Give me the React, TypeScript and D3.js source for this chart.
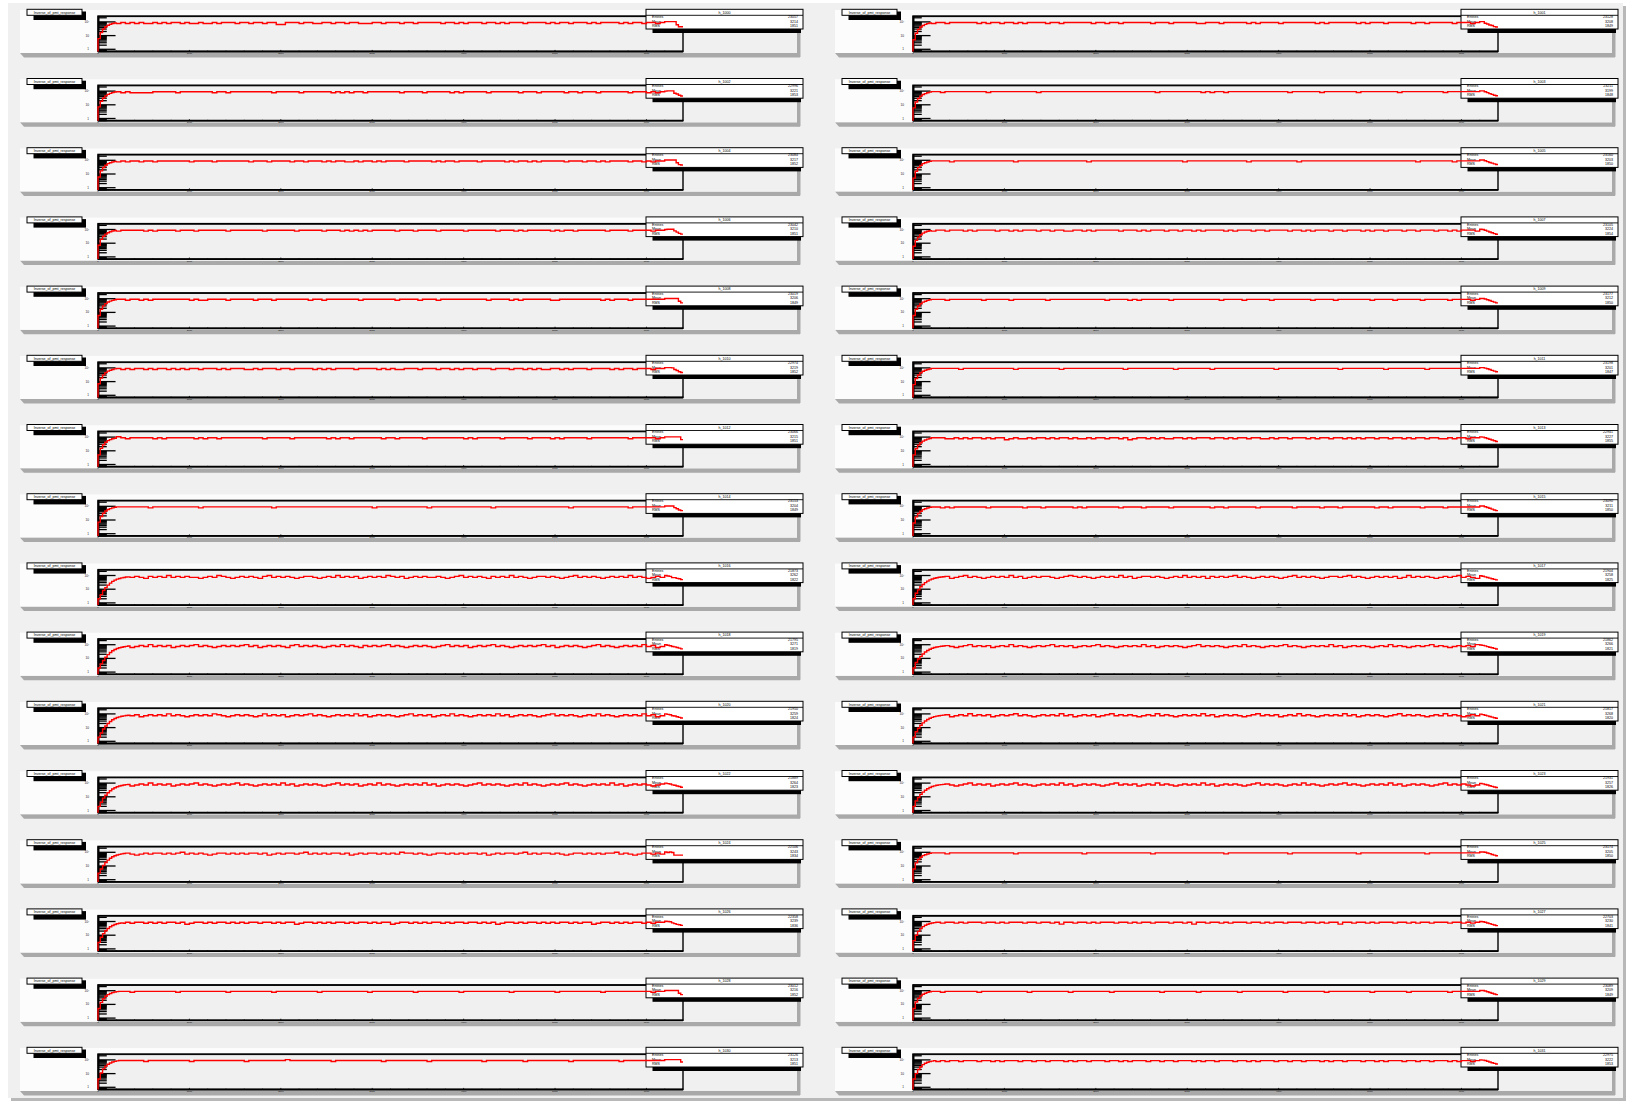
import React from "react";
import * as d3 from "d3";

// ---------------- data ----------------
const statNames = [
  "h_1000", "h_1001", "h_1002", "h_1003", "h_1004", "h_1005", "h_1006", "h_1007",
  "h_1008", "h_1009", "h_1010", "h_1011", "h_1012", "h_1013", "h_1014", "h_1015",
  "h_1016", "h_1017", "h_1018", "h_1019", "h_1020", "h_1021", "h_1022", "h_1023",
  "h_1024", "h_1025", "h_1026", "h_1027", "h_1028", "h_1029", "h_1030", "h_1031",
];
const panelTitle = "Inverse_of_pmt_response";
const entries = [
  "23057", "23128", "22996", "23211", "23084", "23160", "23042", "23105",
  "23019", "23177", "22974", "23198", "23066", "22941", "23153", "23090",
  "21873", "21904", "21795", "21862", "21950", "21817", "21889", "21931",
  "22106", "23174", "22358", "22703", "23012", "23089", "23126", "22975",
];
const means = [
  "3214", "3208", "3221", "3199", "3217", "3203", "3210", "3224",
  "3206", "3212", "3219", "3201", "3215", "3227", "3204", "3211",
  "3262", "3258", "3271", "3266", "3259", "3268", "3264", "3257",
  "3243", "3205", "3239", "3230", "3216", "3209", "3213", "3222",
];
const rmss = [
  "1851", "1849", "1853", "1848", "1852", "1850", "1851", "1854",
  "1849", "1850", "1852", "1847", "1851", "1855", "1849", "1850",
  "1822", "1825", "1819", "1821", "1824", "1820", "1823", "1826",
  "1834", "1850", "1836", "1841", "1852", "1849", "1851", "1853",
];
const plateaus = [
  90, 91, 90, 92, 90, 91, 89, 90,
  91, 90, 90, 92, 90, 89, 91, 90,
  86, 86, 87, 86, 86, 87, 86, 86,
  87, 91, 88, 89, 90, 90, 90, 89,
];
// first fine bins (width 25) of each panel
const riseProfiles = [
  [6, 17, 30, 44, 57, 67, 76, 84], [5, 15, 28, 42, 55, 66, 75, 83],
  [7, 18, 31, 45, 58, 68, 77, 85], [6, 16, 29, 43, 56, 66, 75, 84],
  [6, 17, 30, 44, 57, 67, 76, 84], [5, 16, 29, 43, 57, 67, 76, 84],
  [7, 19, 32, 46, 58, 68, 77, 85], [6, 16, 28, 41, 54, 65, 74, 82],
  [6, 17, 30, 44, 57, 67, 76, 84], [6, 17, 29, 43, 56, 66, 75, 83],
  [7, 18, 31, 45, 58, 68, 77, 85], [6, 17, 30, 44, 57, 67, 76, 84],
  [5, 15, 28, 42, 55, 66, 75, 83], [5, 14, 26, 39, 51, 62, 71, 79],
  [7, 18, 31, 45, 58, 68, 77, 85], [6, 17, 30, 44, 57, 67, 76, 84],
  [2, 4, 8, 13, 20, 28, 37, 46, 54, 61, 67, 72, 77, 80], [2, 5, 9, 15, 22, 30, 39, 48, 56, 63, 69, 74, 78, 81],
  [2, 4, 7, 12, 19, 27, 36, 45, 53, 60, 66, 71, 76, 80], [2, 5, 9, 14, 21, 29, 38, 47, 55, 62, 68, 73, 77, 80],
  [2, 4, 8, 13, 20, 28, 37, 46, 54, 61, 67, 72, 77, 80], [2, 5, 9, 15, 22, 30, 39, 48, 56, 63, 69, 74, 78, 81],
  [2, 4, 8, 13, 20, 28, 37, 46, 54, 61, 67, 72, 77, 80], [2, 5, 9, 15, 22, 30, 39, 48, 56, 63, 69, 74, 78, 81],
  [3, 6, 11, 18, 27, 37, 47, 56, 64, 71, 77, 82], [6, 17, 30, 44, 57, 67, 76, 84],
  [3, 7, 13, 21, 31, 41, 51, 60, 68, 75, 80], [4, 10, 19, 30, 42, 53, 63, 71, 78, 83],
  [5, 14, 26, 39, 52, 63, 72, 80, 85], [5, 15, 28, 42, 55, 66, 75, 83],
  [4, 11, 22, 35, 48, 60, 70, 78, 85], [4, 10, 20, 32, 45, 57, 67, 75, 82],
];
// last fine bins of each panel
const tailProfiles = [
  [104, 104, 104, 104, 104, 62, 44, 44], [104, 104, 80, 70, 60, 55, 45, 42],
  [100, 104, 104, 104, 70, 62, 50, 44], [104, 104, 90, 78, 66, 58, 50, 46],
  [104, 104, 104, 104, 104, 66, 48, 46], [104, 104, 92, 80, 70, 62, 55, 50],
  [100, 104, 104, 104, 80, 64, 52, 46], [104, 100, 88, 76, 66, 58, 50, 45],
  [104, 104, 104, 104, 104, 104, 66, 50], [104, 104, 94, 84, 74, 64, 56, 50],
  [104, 104, 104, 100, 76, 64, 52, 46], [104, 104, 96, 86, 76, 66, 58, 52],
  [104, 104, 104, 104, 104, 104, 104, 66], [104, 100, 90, 80, 70, 62, 54, 48],
  [104, 104, 104, 104, 80, 66, 54, 48], [104, 104, 92, 82, 72, 62, 54, 48],
  [100, 92, 86, 70, 70, 62, 58, 50], [96, 88, 80, 72, 64, 58, 52, 48],
  [100, 92, 84, 74, 70, 62, 56, 50], [96, 90, 82, 72, 66, 60, 54, 48],
  [100, 92, 86, 74, 70, 62, 56, 50], [96, 88, 80, 72, 64, 58, 52, 48],
  [100, 92, 86, 74, 70, 62, 56, 50], [96, 88, 80, 72, 64, 58, 52, 48],
  [104, 96, 104, 96, 62, 62, 62, 62], [104, 104, 100, 90, 80, 70, 62, 56],
  [104, 100, 96, 80, 70, 62, 58, 52], [100, 96, 88, 78, 70, 62, 56, 50],
  [104, 104, 104, 104, 104, 104, 66, 52], [104, 104, 94, 84, 74, 66, 58, 52],
  [104, 104, 104, 104, 104, 104, 104, 70], [100, 96, 90, 80, 70, 62, 56, 50],
];
// plateau deviations, one character per pair of fine bins:
// "." on plateau, "-" about 1px lower, "=" about 2px lower, "+" about 1px higher
const dipPatterns = [
  "....-.-.-.--.-.-..-.--.--.-...-..-..-..==...-..--..-..-..---..-...-..-.....-..-.-...-..-.-...-....-.-..-...-.-....-.-..-..-...-..",
  "....-..-......-.-..-..-.-....-..-......-..-..-......-...-.....--...-.....-.-....-.......-.-......-.-...-.....-..-.....-...-......",
  ".....-.-----.....-.......-..-.........-.....-......-.-.-..-.......-....-.....-.-.....-......-...-.....-..-...-......-...-.-....-..",
  "......-.........-..........-.........................-.........-.-..-.............-......-.......-........-.........-.............",
  "....-.-..-..-.......-....-.......-...-....-..-...-.-..--.-..-.-....-.....-.-..-....-.....-.-..-.-.....-...-..-.-....-..-.-..-....",
  "........-.............-...............-....................-.............-..........-.........................-.......-.........",
  "....-.....-.-....-...-......-.......-......-.....-...-.-.-.-.....-...-....-.....-......-...-.-.....-.-..-......-....-....-........",
  "....-..-...-.-....-..-.-...-..-..--..-.-.....-...-.-...-..-..-.-....-.-...-..-....-..-.-...-..-...-.-..-...-..-...-..-.-...-...-.",
  "......-..-.-........-.--....-.....-...-.......-..-.......-.......-....-...-..........-....-.-......--.........-.-...-.......-.....",
  ".......-.......-.....-.......-............-....-.-......-..........-....-.....-........-....-.......-....-.....-.....-....-.......",
  ".....-.-..-.-..-.-.-..-...-.-...--.-...-..-....-.-.-....-....-.-.--...-...-..-.-..-...-...-..-.-.--..-.-...-....-.-..-...-..-...",
  "..........-...........-.........-.............-..........-.......-.............-.............-.........-........-...............",
  "....+.-.....-.-......-.-..-.........-.....-.......-.-..-......-..-.....-........-.-.....-.....-....-.-.....-........-.....-......",
  ".......--.-.-..-.-..=-.--.-..-.-..-.--.-..-..-.=-..-.-.--..-.-...-..-.-..-..--.-..-...-.-..-..-.-.-..-..-..-.-..-..--.-..-..-.-.",
  "...........-..........-...............-.....................-...........-.............-................-............-............",
  "......-.-.......-.......-...-......-.-.......-....-.....-........-..-......-.......-.....-...-.......-..-......-....-.......-.....",
  "......+-.-=.-.-+-.-.--=-.-+.-=-.-.-=.+-.-.-=-..-=-.-+-.-.=-.-.-+.-.=-.-.--.-=-.+-.-.-=.-.-+-.-=-..-.-=-.+-.-.-=-.-.-+-.-=-.-.=.-.+",
  "......-.=-.+-.-=-.-.-+-.=-.-..-=-.+.-.-=-.-.-+-.=-..-.-=-.-+-.-.=.-.-.+-.-=-.-.-=-.+-.-.-=-..-.+-.-=-.-.-.=-+-.-.-=-.-.+-.-=-.-.-",
  "......-=-.-+-.-.=-.-.+-.-=-.-.-.+-.=-.-.-=.+-.-.-=-.-+-.-=.-.-.+-.-=-.-.-=-.+-.-.=-.-.+-.-=-.-.-.+-.=-.-.-=-.+-.-=-.-.-+-.=-.-.-",
  "......-.-=-.+-.-.=-.-+-.-=-.-.+-.-.=-.-.+-.-=-.-.-+-.=-.-.-=-.+-.-.-=-.-+-.-=-.-.+-.-=-.-.-+-.=-.-.-=-.-+-.-=-.-.+-.-=-.-.-+-.=-",
  "......+-.=-.-.-+-.-=-.-.-+.-=-.-.-=-+-.-.=-.-.+-.-=-.-.-+-.=-.-.-=-.+-.-.=-.-+-.-=-.-.-+-.=-.-.-=-.+-.-.-=-.-+-.-=-.-.-+-.=-.-.-",
  "......-.=-.-+-.-.=-.-.+-.-=-.-.-+-.=-.-.=-.+-.-.-=-.-+-.-=-.-.-+-.=-.-.-=-.+-.-.=-.-+-.-=-.-.-+-.=-.-.-=-.+-.-.-=-.-+-.-=-.-.-+-.",
  "......-=-.-+-.-.=-.-.+-.-=-.-.+-.-=-.-.-+-.=-.-.-=-.+-.-.=-.-+-.-=-.-.-+-.=-.-.-=-.+-.-.-=-.-+-.-=-.-.+-.-=-.-.-+-.=-.-.-=-.+-.-.",
  "......-.-=-.+-.-.=-.-.+-.-=-.-.-+-.=-.-.-=-.+-.-.=-.-+-.-=-.-.-+-.=-.-.-=-.+-.-.-=-.-+-.-=-.-.+-.-=-.-.-+-.=-.-.-=-.+-.-.-=-.-+-",
  ".....-.-=-.-..-.-.+-.-.-=-..-.-.-..-.=-.-..-.+-.-.-..-.=-.-..-.-.-+..-.-=-..-.-.-..-.=-.-..-.+-.-..-.-=-..-.-.-..+-.-=-..-.-.-..-",
  ".......-..............-..............-..............-...............-.............-..............-..............-...............",
  ".....-.-..-.-.-..-.=-..-.-..-.-.-..-..-.-..=-..-.-.-..-.-..-.-..=-..-.-.-..-.-..-..-.-.=-..-.-..-.-.-..-.-..=-..-.-.-..-.-..-.-..",
  "......-..-.-...-..-.-...-..-..-.=..-..-.-...-..-.-..-...-..-.=..-..-.-...-..-.-..-...-..-.-..=..-..-.-...-..-.-..-...-..-.-...-..",
  ".......-.........-..........-.........-.........-..........-.........-.........-..........-.........-.........-..........-.......",
  "......-.......-..........-........-........-..........-.......-........-.........-........-.........-.......-........-.........-.",
  "..........-.........-...........-........+.........-..........-.........-...........-........-.........-..........-.............",
  ".....-.-..-...-..-.-...-..-..-...-.-..-...-..-.-...-..-..-...-.-..-...-..-.-...-..-..-...-.-..-...-..-.-...-..-..-...-.-..-...-..",
];
const xTickValues = [0, 1000, 2000, 3000, 4000, 5000, 6000];
const xMinorStep = 200;
const xDomain = [0, 6400];
const yDomain = [0.69, 270];
const statLabels = ["Entries", "Mean", "RMS"];

// ---------------- layout ----------------
const W = 1633;
const H = 1101;
const COL_DX = 815;
const ROW_DY = 69.2;
const FX0 = 98, FX1 = 683, FY0 = 16, FY1 = 51.5;
const NFINE = 256;
const FONT = "'Liberation Sans', Arial, Helvetica, sans-serif";

const devFactor: Record<string, number> = { ".": 1, "-": 0.85, "=": 0.72, "+": 1.17 };

function buildBins(i: number): number[] {
  const P = plateaus[i];
  const pat = dipPatterns[i].padEnd(NFINE / 2, ".").slice(0, NFINE / 2);
  const vals: number[] = [];
  for (let b = 0; b < NFINE; b++) vals.push(P * (devFactor[pat[b >> 1]] ?? 1));
  riseProfiles[i].forEach((v, k) => (vals[k] = v));
  const t = tailProfiles[i];
  t.forEach((v, k) => (vals[NFINE - t.length + k] = v));
  return vals;
}

function Panel({ i }: { i: number }) {
  const row = Math.floor(i / 2);
  const col = i % 2;
  const x = d3.scaleLinear().domain(xDomain).range([FX0, FX1]);
  const y = d3.scaleLog().domain(yDomain).range([FY1, FY0]);
  const bins = buildBins(i);
  const bw = (xDomain[1] - xDomain[0]) / NFINE;
  const pts: [number, number][] = [[0, yDomain[0]]];
  bins.forEach((v, b) => pts.push([b * bw, v]));
  pts.push([xDomain[1], bins[NFINE - 1]]);
  const line = d3
    .line<[number, number]>()
    .x((d) => x(d[0]))
    .y((d) => y(d[1]))
    .curve(d3.curveStepAfter);
  const yTicks = y.ticks();
  const minorX = d3.range(xDomain[0], xDomain[1] + 1, xMinorStep);
  const isMajor = (t: number) => Math.abs(Math.log10(t) - Math.round(Math.log10(t))) < 1e-9;
  const majorLen = 0.03 * (FX1 - FX0);
  const yLab = (t: number) => {
    const e = Math.round(Math.log10(t));
    return e === 0 ? "1" : e === 1 ? "10" : "10\u00b2";
  };
  return (
    <g transform={`translate(${col * COL_DX},${row * ROW_DY})`}>
      {/* pad shadow */}
      <polygon points="20,53 800,53 800,57.5 24,57.5" fill="#a9a9a9" />
      <rect x={797} y={32} width={3.5} height={25} fill="#a9a9a9" />
      {/* pad */}
      <rect x={20} y={10} width={777} height={43} fill="#fcfcfc" />
      <rect x={FX0} y={FY0} width={797 - FX0} height={53 - FY0} fill="#f0f0f0" />
      {/* frame */}
      <rect x={FX0} y={FY0} width={FX1 - FX0} height={FY1 - FY0} fill="none" stroke="#000" strokeWidth={1.4} />
      <line x1={FX0} x2={FX1} y1={FY0 + 0.6} y2={FY0 + 0.6} stroke="#000" strokeWidth={1} />
      <line x1={FX0} x2={FX1} y1={FY1} y2={FY1} stroke="#000" strokeWidth={1.8} />
      <line x1={FX0 + 0.5} x2={FX0 + 0.5} y1={FY0} y2={FY1} stroke="#000" strokeWidth={2} />
      {/* y ticks */}
      {yTicks.map((t, k) => (
        <line
          key={k}
          x1={FX0}
          x2={FX0 + (isMajor(t) ? majorLen : majorLen / 2)}
          y1={y(t)}
          y2={y(t)}
          stroke="#000"
          strokeWidth={1.3}
        />
      ))}
      {/* x ticks */}
      {minorX.map((t, k) => (
        <line key={k} x1={x(t)} x2={x(t)} y1={FY1} y2={FY1 - (t % 1000 === 0 ? 1.6 : 0.9)} stroke="#000" strokeWidth={0.8} />
      ))}
      {xTickValues.map((t, k) => (
        <text key={k} x={x(t)} y={FY1 + 2.6} fontSize={2.4} textAnchor="middle" fill="#000" fontFamily={FONT}>
          {t}
        </text>
      ))}
      {/* y labels */}
      {yTicks.filter(isMajor).map((t, k) => (
        <text key={k} x={89} y={y(t) + 1.1} fontSize={3.2} textAnchor="end" fill="#222" fontFamily={FONT}>
          {yLab(t)}
        </text>
      ))}
      {/* title */}
      <rect x={33.5} y={11.5} width={52.5} height={8.5} fill="#000" />
      <rect x={27} y={9.3} width={55} height={6} fill="#fff" stroke="#000" strokeWidth={1} />
      <text x={54.5} y={13.6} fontSize={3.6} textAnchor="middle" fill="#000" fontFamily={FONT}>
        {panelTitle}
      </text>
      {/* stats box */}
      <rect x={652.5} y={27} width={148.5} height={6} fill="#000" />
      <rect x={646} y={9.3} width={157} height={19.7} fill="#fff" stroke="#000" strokeWidth={1} />
      <line x1={646} x2={803} y1={15.3} y2={15.3} stroke="#000" strokeWidth={0.9} />
      <text x={724.5} y={13.7} fontSize={3.6} textAnchor="middle" fill="#000" fontFamily={FONT}>
        {statNames[i]}
      </text>
      {statLabels.map((s, k) => (
        <g key={s}>
          <text x={652} y={18 + k * 4.5} fontSize={3.6} fill="#000" fontFamily={FONT}>
            {s}
          </text>
          <text x={798} y={18 + k * 4.5} fontSize={3.6} textAnchor="end" fill="#000" fontFamily={FONT}>
            {[entries[i], means[i], rmss[i]][k]}
          </text>
        </g>
      ))}
      {/* histogram */}
      <path d={line(pts) ?? ""} fill="none" stroke="#ff0000" strokeWidth={1.4} />
    </g>
  );
}

export default function App() {
  const ids = d3.range(statNames.length);
  return (
    <svg
      width={W}
      height={H}
      viewBox={`0 0 ${W} ${H}`}
      style={{ position: "absolute", left: 0, top: 0, display: "block" }}
    >
      <rect x={0} y={0} width={W} height={H} fill="#ffffff" />
      <rect x={11} y={6} width={1615} height={1095} fill="#b8b8b8" />
      <rect x={8} y={3} width={1615} height={1095} fill="#f0f0f0" />
      {ids.map((i) => (
        <Panel key={i} i={i} />
      ))}
    </svg>
  );
}
